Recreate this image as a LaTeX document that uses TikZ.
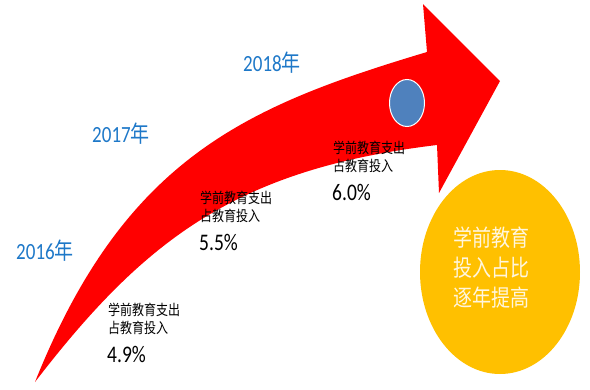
\documentclass[tikz,border=0pt]{standalone}
\usepackage{fontspec}
\setmainfont{Carlito}
\newfontfamily\cjk{Noto Sans CJK SC}
\usetikzlibrary{shapes.geometric}
\definecolor{arrowred}{RGB}{255,0,0}
\definecolor{yearblue}{RGB}{30,120,200}
\definecolor{dotblue}{RGB}{79,129,189}
\definecolor{goldfill}{RGB}{255,192,0}
\definecolor{paletext}{RGB}{255,246,222}
\newcommand{\tallit}[1]{\scalebox{1}[1.22]{#1}}
\begin{document}
\begin{tikzpicture}[x=1pt,y=-1pt,
  year/.style={text=yearblue,font=\fontsize{19}{22}\selectfont,inner sep=0pt},
  cjksmall/.style={anchor=west,inner sep=0pt,font=\cjk\fontsize{12}{14}\selectfont},
  pct/.style={anchor=west,inner sep=0pt,font=\fontsize{19.5}{22}\selectfont},
]
\useasboundingbox (0,0) rectangle (590,389);
% arrow
\fill[arrowred] (35,382) .. controls (125,157) and (247,106) .. (427,52)
  -- (423,4) -- (500,81) -- (439,193) -- (437,145)
  .. controls (237,169) and (145,239) .. (35,382) -- cycle;
% blue dot
\node[ellipse,draw=white,line width=1pt,fill=dotblue,minimum width=35pt,minimum height=47pt,inner sep=0pt] (dot) at (407,103) {};
% yellow ellipse
\node[ellipse,fill=goldfill,minimum width=160pt,minimum height=204pt,inner sep=0pt] (goal) at (500,272) {};
\node[text=paletext,align=center,font=\cjk\fontsize{19}{30}\selectfont,inner sep=0pt] (goaltext) at (491,268) {\tallit{学前教育}\\\tallit{投入占比}\\\tallit{逐年提高}};
% years
\node[year] (y2016) at (45,251) {\tallit{2016{\cjk 年}}};
\node[year] (y2017) at (121,134) {\tallit{2017{\cjk 年}}};
\node[year] (y2018) at (272,63) {\tallit{2018{\cjk 年}}};
% block 2016
\node[cjksmall] (a1) at (108,310) {\tallit{学前教育支出}};
\node[cjksmall] (a2) at (108,328) {\tallit{占教育投入}};
\node[pct] (a3) at (107,354) {\tallit{4.9\%}};
% block 2017
\node[cjksmall] (b1) at (200,198) {\tallit{学前教育支出}};
\node[cjksmall] (b2) at (200,216) {\tallit{占教育投入}};
\node[pct] (b3) at (199,242) {\tallit{5.5\%}};
% block 2018
\node[cjksmall] (c1) at (333,148) {\tallit{学前教育支出}};
\node[cjksmall] (c2) at (333,166) {\tallit{占教育投入}};
\node[pct] (c3) at (332,192) {\tallit{6.0\%}};
\end{tikzpicture}
\end{document}
